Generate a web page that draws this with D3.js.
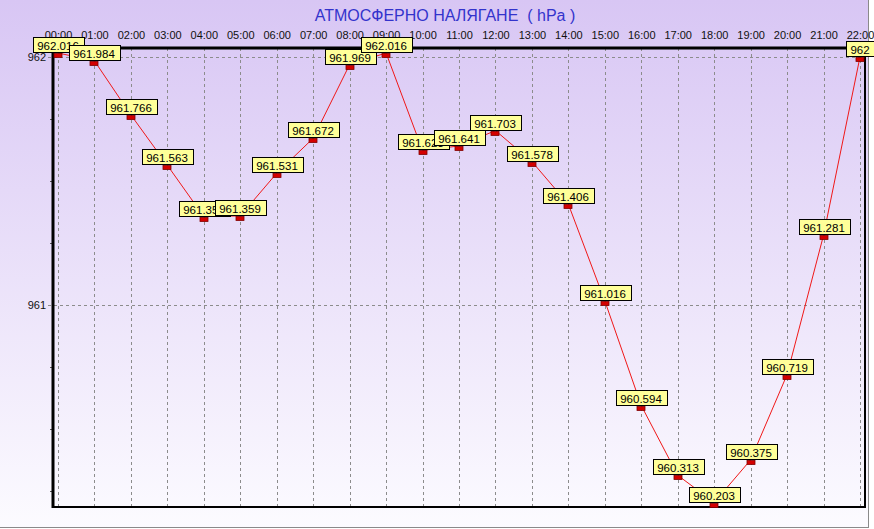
<!DOCTYPE html>
<html>
<head>
<meta charset="utf-8">
<script src="https://cdn.jsdelivr.net/npm/d3@7"></script>
<style>
  body { margin: 0; background: #fff; }
  svg { display: block; font-family: "Liberation Sans", Arial, sans-serif; }
</style>
</head>
<body>
<div id="chart"></div>
<script>
const svgWidth = 874
const svgHeight = 529

// data
const hours = ["00:00", "01:00", "02:00", "03:00", "04:00", "05:00", "06:00", "07:00",
  "08:00", "09:00", "10:00", "11:00", "12:00", "13:00", "14:00", "15:00", "16:00",
  "17:00", "18:00", "19:00", "20:00", "21:00", "22:00"]
const pressure = [962.016, 961.984, 961.766, 961.563, 961.356, 961.359, 961.531, 961.672,
  961.969, 962.016, 961.623, 961.641, 961.703, 961.578, 961.406, 961.016, 960.594,
  960.313, 960.203, 960.375, 960.719, 961.281, 962]
const yLabels = [961, 962]
const yMinor = [960.25, 960.5, 960.75, 961.25, 961.5, 961.75]
const title = "АТМОСФЕРНО НАЛЯГАНЕ  ( hPa )"

let plot = { left: 53, right: 865, top: 48, bottom: 507 }

let svg = d3.select("#chart")
  .append("svg")
  .attr("width", svgWidth)
  .attr("height", svgHeight)

// background gradient
let defs = svg.append("defs")
let grad = defs.append("linearGradient")
  .attr("id", "bg")
  .attr("x1", 0).attr("y1", 0).attr("x2", 0).attr("y2", 1)
grad.append("stop").attr("offset", "0%").attr("stop-color", "#d8c6f4")
grad.append("stop").attr("offset", "100%").attr("stop-color", "#fcfbff")

svg.append("rect")
  .attr("x", 0).attr("y", 0)
  .attr("width", 869).attr("height", 528)
  .attr("fill", "url(#bg)")

// outer 3d frame
svg.append("line").attr("x1", 0).attr("y1", 527.5).attr("x2", 869).attr("y2", 527.5)
  .attr("stroke", "#8a8a8a")
svg.append("line").attr("x1", 868.5).attr("y1", 0).attr("x2", 868.5).attr("y2", 528)
  .attr("stroke", "#8a8a8a")

let x = d3.scalePoint()
  .domain(hours)
  .range([58, 860])

let y = d3.scaleLinear()
  .domain([960.185, 962.036])
  .range([plot.bottom, plot.top])

// title
svg.append("text")
  .attr("x", 445)
  .attr("y", 21)
  .attr("text-anchor", "middle")
  .attr("font-size", "16px")
  .attr("fill", "#3333cc")
  .style("white-space", "pre")
  .text(title)

// vertical grid
svg.append("g")
  .selectAll("line")
  .data(hours)
  .enter()
  .append("line")
  .attr("x1", d => Math.round(x(d)) + 0.5)
  .attr("x2", d => Math.round(x(d)) + 0.5)
  .attr("y1", plot.top)
  .attr("y2", plot.bottom)
  .attr("stroke", "#8c8c8c")
  .attr("stroke-dasharray", "3,3")

// horizontal grid at the labelled values
svg.append("g")
  .selectAll("line")
  .data(yLabels)
  .enter()
  .append("line")
  .attr("x1", 48)
  .attr("x2", plot.right)
  .attr("y1", d => Math.round(y(d)) + 0.5)
  .attr("y2", d => Math.round(y(d)) + 0.5)
  .attr("stroke", "#8c8c8c")
  .attr("stroke-dasharray", "3,3")

// x axis on top
let topAxis = d3.axisTop(x).tickSize(0).tickPadding(9)
let xAxis = svg.append("g")
  .attr("transform", `translate(0, ${plot.top})`)
  .call(topAxis)
xAxis.select(".domain").remove()
xAxis.selectAll("text")
  .attr("font-size", "11px")
  .attr("font-family", "Liberation Sans, Arial, sans-serif")
  .attr("fill", "#111")

// y axis labels
let leftAxis = d3.axisLeft(y).tickValues(yLabels).tickFormat(d3.format("d")).tickSize(0).tickPadding(7)
let yAxis = svg.append("g")
  .attr("transform", `translate(${plot.left}, 0)`)
  .call(leftAxis)
yAxis.select(".domain").remove()
yAxis.selectAll("text")
  .attr("font-size", "11px")
  .attr("font-family", "Liberation Sans, Arial, sans-serif")
  .attr("fill", "#111")

// minor ticks on the left edge
svg.append("g")
  .selectAll("line")
  .data(yMinor)
  .enter()
  .append("line")
  .attr("x1", 50)
  .attr("x2", 53)
  .attr("y1", d => Math.round(y(d)) + 0.5)
  .attr("y2", d => Math.round(y(d)) + 0.5)
  .attr("stroke", "#555")

// plot frame: thick top and left, thinner right and bottom
svg.append("line").attr("x1", plot.left - 1).attr("x2", plot.right + 1)
  .attr("y1", plot.top).attr("y2", plot.top)
  .attr("stroke", "#000").attr("stroke-width", 3)
svg.append("line").attr("x1", plot.left).attr("x2", plot.left)
  .attr("y1", plot.top - 1).attr("y2", plot.bottom + 1)
  .attr("stroke", "#000").attr("stroke-width", 3)
svg.append("line").attr("x1", plot.right).attr("x2", plot.right)
  .attr("y1", plot.top).attr("y2", plot.bottom + 1)
  .attr("stroke", "#000").attr("stroke-width", 2)
svg.append("line").attr("x1", plot.left).attr("x2", plot.right + 1)
  .attr("y1", plot.bottom).attr("y2", plot.bottom)
  .attr("stroke", "#000").attr("stroke-width", 2)

let points = hours.map((h, i) => ({ hour: h, value: pressure[i] }))

// series line
let line = d3.line()
  .x(d => x(d.hour))
  .y(d => y(d.value))

svg.append("path")
  .datum(points)
  .attr("d", line)
  .attr("fill", "none")
  .attr("stroke", "#f01818")
  .attr("stroke-width", 1)

// markers
svg.append("g")
  .selectAll("rect")
  .data(points)
  .enter()
  .append("rect")
  .attr("x", d => Math.round(x(d.hour)) - 4)
  .attr("y", d => Math.round(y(d.value)) + 0.5)
  .attr("width", 8)
  .attr("height", 4)
  .attr("fill", "#d40000")
  .attr("stroke", "#800000")
  .attr("stroke-width", 0.8)

// value labels, drawn in order so later ones cover earlier ones (as in the original)
let labels = svg.append("g")
points.forEach(d => {
  let g = labels.append("g")
    .attr("transform", `translate(${Math.round(x(d.hour))}, ${Math.round(y(d.value))})`)
  let txt = d3.format("")(d.value)
  let rect = g.append("rect")
  let t = g.append("text")
    .attr("x", 0)
    .attr("y", -3)
    .attr("text-anchor", "middle")
    .attr("font-size", "11.5px")
    .attr("fill", "#000")
    .text(txt)
  let w = t.node().getComputedTextLength() + 9
  rect.attr("x", Math.round(-w / 2) + 0.5)
    .attr("y", -15.5)
    .attr("width", Math.round(w))
    .attr("height", 15)
    .attr("fill", "#ffff99")
    .attr("stroke", "#000")
    .attr("stroke-width", 1)
})
</script>
</body>
</html>
